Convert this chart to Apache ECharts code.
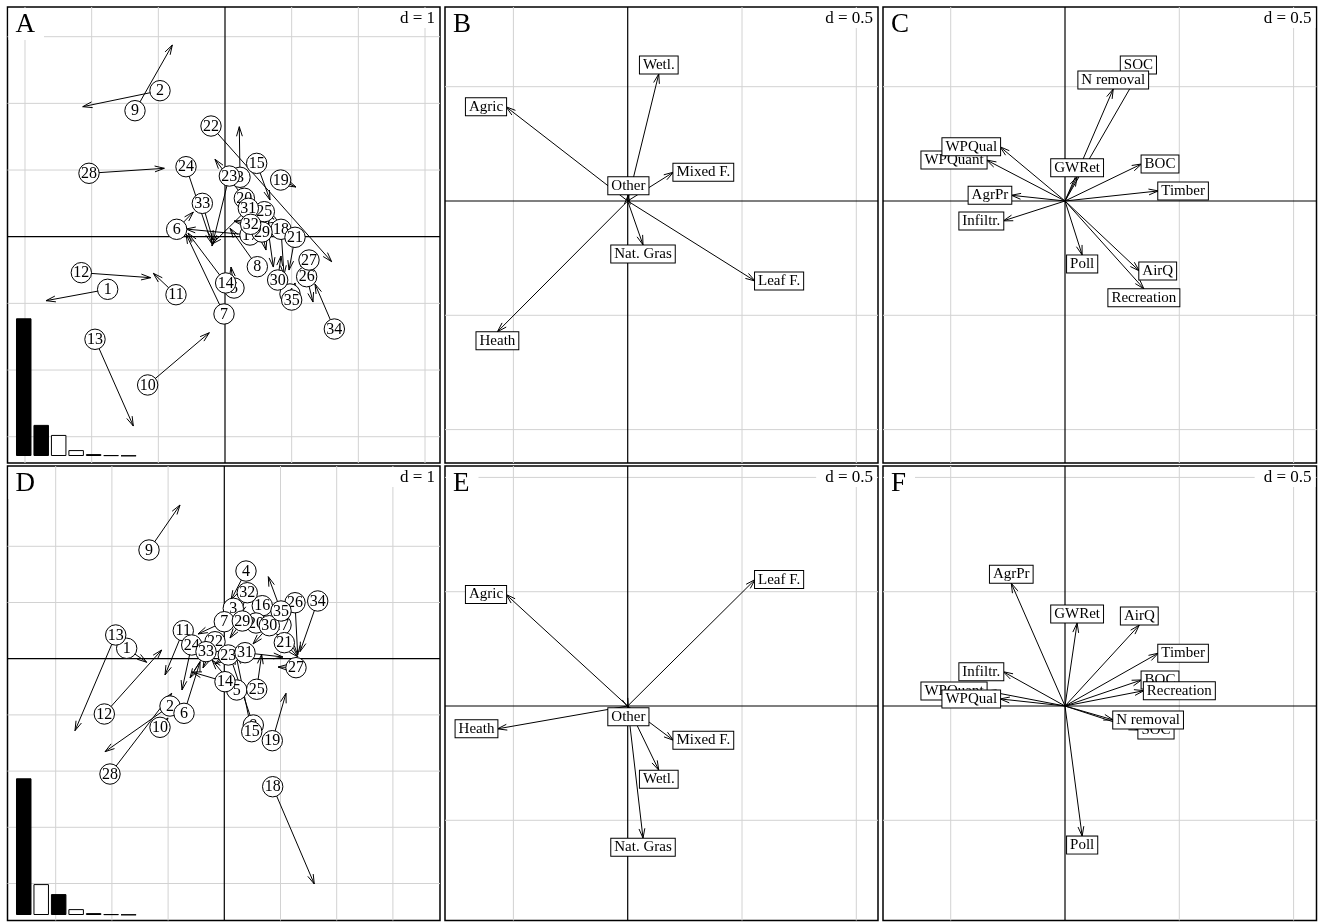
<!DOCTYPE html>
<html>
<head>
<meta charset="utf-8">
<script src="https://cdn.jsdelivr.net/npm/echarts@6/dist/echarts.min.js"></script>
<style>
html, body { margin: 0; padding: 0; background: #fff; }
#chart { width: 1322px; height: 922px; }
</style>
</head>
<body>
<div id="chart"></div>
<script>
// ---------- data ----------
// site numbers (rows of the co-inertia)
const siteIds = [1,2,3,4,5,6,7,8,9,10,11,12,13,14,15,16,17,18,19,20,21,22,23,24,25,26,27,28,29,30,31,32,33,34,35];

// axes 1-2: site scores from the land-cover table (circle) and the service table (arrow tip)
const sitesA_from = [[-1.76,-0.789],[-0.975,2.19],[0.225,0.891],[0.975,-0.859],[0.135,-0.77],[-0.725,0.111],[-0.015,-1.159],[0.485,-0.45],[-1.35,1.89],[-1.16,-2.224],[-0.735,-0.87],[-2.155,-0.54],[-1.95,-1.539],[0.01,-0.694],[0.475,1.10],[0.635,0.19],[0.375,0.025],[0.84,0.111],[0.835,0.85],[0.29,0.576],[1.05,-0.009],[-0.21,1.66],[0.065,0.91],[-0.585,1.05],[0.59,0.375],[1.225,-0.6],[1.26,-0.35],[-2.04,0.951],[0.555,0.07],[0.79,-0.65],[0.35,0.426],[0.385,0.186],[-0.34,0.5],[1.64,-1.385],[1.0,-0.95]];
const sitesA_to = [[-2.685,-0.96],[-2.134,1.95],[0.2145,1.65],[0.87,-0.71],[0.09,-0.455],[-0.475,0.37],[-0.585,0.04],[0.075,0.126],[-0.79,2.875],[-0.235,-1.44],[-1.075,-0.549],[-1.114,-0.615],[-1.375,-2.84],[-0.555,0.055],[0.675,0.55],[0.725,-0.455],[-0.585,0.115],[0.885,-0.574],[1.065,0.745],[-0.15,1.161],[0.96,-0.5],[1.6,-0.375],[-0.195,-0.14],[-0.2,-0.1],[0.39,0.40],[1.32,-0.98],[1.125,-0.44],[-0.91,1.026],[0.615,-0.2],[0.84,-0.29],[-0.195,-0.11],[0.135,0.235],[-0.18,-0.05],[1.35,-0.71],[1.05,-0.694]];

// axes 1-3
const sitesD_from = [[-1.737,0.185],[-0.966,-0.842],[0.16,0.897],[0.386,1.56],[0.221,-0.557],[-0.717,-0.972],[0,0.658],[0.516,-1.18],[-1.34,1.934],[-1.144,-1.221],[-0.73,0.498],[-2.135,-0.984],[-1.932,0.422],[0.012,-0.409],[0.488,-1.299],[0.676,0.943],[1.009,0.6],[0.861,-2.278],[0.854,-1.459],[0.564,0.635],[1.068,0.285],[-0.165,0.302],[0.071,0.066],[-0.58,0.244],[0.577,-0.544],[1.258,0.996],[1.276,-0.16],[-2.034,-2.052],[0.32,0.671],[0.801,0.587],[0.368,0.107],[0.409,1.174],[-0.326,0.125],[1.662,1.027],[1.009,0.849]];
const sitesD_to = [[-1.381,-0.064],[-2.123,-1.655],[-0.041,0.511],[0.119,1.044],[-0.219,-0.023],[-0.432,-0.059],[-0.468,0.44],[0.066,0.155],[-0.788,2.735],[-1.002,-1.055],[-1.055,-0.29],[-1.114,0.155],[-2.657,-1.281],[-0.575,-0.237],[0.208,0.066],[0.564,0.724],[1.169,0.19],[1.601,-4.009],[1.098,-0.616],[0.386,0.51],[1.311,0.03],[-0.379,-0.165],[-0.165,-0.094],[-0.753,-0.557],[0.665,0.078],[1.306,0.066],[0.956,-0.148],[-0.936,-0.616],[0.101,0.368],[0.511,0.262],[1.044,0.03],[0.279,0.778],[-0.61,-0.343],[1.347,0.125],[0.783,1.459]];

// land-cover loadings
const landCover      = ['Agric', 'Heath', 'Leaf F.', 'Mixed F.', 'Nat. Gras', 'Other', 'Wetl.'];
const landCoverAx1   = [-0.532, -0.570, 0.557, 0.200, 0.067, 0.003, 0.136];
const landCoverAx2   = [0.412, -0.572, -0.350, 0.126, -0.192, 0.027, 0.556];
const landCoverAx3   = [0.488, -0.100, 0.553, -0.150, -0.578, -0.008, -0.281];

// ecosystem-service loadings
const services       = ['AgrPr', 'Timber', 'Poll', 'AirQ', 'WPQuant', 'WPQual', 'Infiltr.', 'GWRet', 'SOC', 'N removal', 'BOC', 'Recreation'];
const servicesAx1    = [-0.235, 0.408, 0.075, 0.325, -0.343, -0.284, -0.270, 0.053, 0.321, 0.211, 0.335, 0.345];
const servicesAx2    = [0.025, 0.044, -0.236, -0.306, 0.179, 0.237, -0.087, 0.106, 0.556, 0.490, 0.162, -0.384];
const servicesAx3    = [0.537, 0.231, -0.569, 0.354, 0.066, 0.031, 0.150, 0.363, -0.105, -0.061, 0.114, 0.067];

// eigenvalues (relative) and which axes are shown
const eigenAxes   = ['1', '2', '3', '4', '5', '6', '7'];
const eigenValues = [1.0, 0.226, 0.153, 0.043, 0.014, 0.006, 0.003];
const eigenFillA  = ['#000', '#000', '#fff', '#fff', '#fff', '#fff', '#fff'];
const eigenFillD  = ['#000', '#fff', '#000', '#fff', '#fff', '#fff', '#fff'];

// grid line positions
const gridA  = [-3, -2, -1, 1, 2, 3];
const gridDx = [-3, -2, -1, 1, 2, 3];
const gridDy = [-4, -3, -2, -1, 1, 2];
const gridVx = [-0.5, 0.5, 1.0];
const gridVyTop = [-1.0, -0.5, 0.5];
const gridVyBottom = [-0.5, 0.5, 1.0];

// panel titles and scale labels
const panelLetters = ['A', 'B', 'C', 'D', 'E', 'F'];
const scaleLabels  = ['d = 1', 'd = 0.5', 'd = 0.5', 'd = 1', 'd = 0.5', 'd = 0.5'];

// ---------- layout ----------
const panels = [
  { box: [7.5, 7, 432.5, 456],   x: [-3.2624, 3.2249], y: [-3.3944, 3.4454] },
  { box: [445, 7, 433, 456],     x: [-0.7992, 1.0949], y: [-1.1461, 0.8486] },
  { box: [883, 7, 433.5, 456],   x: [-0.7962, 1.1002], y: [-1.1461, 0.8486] },
  { box: [7.5, 466, 432.5, 454.5], x: [-3.8577, 3.8381], y: [-4.6584, 3.4288] },
  { box: [445, 466, 433, 454.5],   x: [-0.7992, 1.0949], y: [-0.9383, 1.0499] },
  { box: [883, 466, 433.5, 454.5], x: [-0.7962, 1.1002], y: [-0.9383, 1.0499] }
];
const insets = [
  { box: [15, 318.3, 122.3, 137.7], fills: eigenFillA },
  { box: [15, 778.3, 122.3, 136.7], fills: eigenFillD }
];

const SERIF = '"Liberation Serif", "DejaVu Serif", serif';
const HEAD = 10, ANG = 17 * Math.PI / 180;

function arrowGroup(p0, p1) {
  const children = [{
    type: 'line',
    shape: { x1: p0[0], y1: p0[1], x2: p1[0], y2: p1[1] },
    style: { stroke: '#000', lineWidth: 1 }
  }];
  const dx = p1[0] - p0[0], dy = p1[1] - p0[1];
  if (Math.hypot(dx, dy) > 0.3) {
    const a = Math.atan2(dy, dx);
    children.push({
      type: 'polyline',
      shape: { points: [
        [p1[0] - HEAD * Math.cos(a - ANG), p1[1] - HEAD * Math.sin(a - ANG)],
        [p1[0], p1[1]],
        [p1[0] - HEAD * Math.cos(a + ANG), p1[1] - HEAD * Math.sin(a + ANG)]
      ] },
      style: { stroke: '#000', fill: 'none', lineWidth: 1 }
    });
  }
  return { type: 'group', children };
}

function lineSeries(idx, xs, ys, color, width, z) {
  const data = xs.map(v => [v, 0]).concat(ys.map(v => [v, 1]));
  return {
    type: 'custom', xAxisIndex: idx, yAxisIndex: idx, z, silent: true, data,
    encode: { x: 0 },
    renderItem(params, api) {
      const cs = params.coordSys;
      const v = api.value(0);
      if (api.value(1) === 0) {
        const x = api.coord([v, 0])[0];
        return { type: 'line', shape: { x1: x, y1: cs.y, x2: x, y2: cs.y + cs.height }, style: { stroke: color, lineWidth: width } };
      }
      const y = api.coord([0, v])[1];
      return { type: 'line', shape: { x1: cs.x, y1: y, x2: cs.x + cs.width, y2: y }, style: { stroke: color, lineWidth: width } };
    }
  };
}

function matchSeries(idx, from, to) {
  return {
    type: 'custom', xAxisIndex: idx, yAxisIndex: idx, z: 3, silent: true,
    data: from.map((s, i) => [s[0], s[1], to[i][0], to[i][1]]),
    encode: { x: [0, 2], y: [1, 3] },
    renderItem(params, api) {
      return arrowGroup(api.coord([api.value(0), api.value(1)]), api.coord([api.value(2), api.value(3)]));
    }
  };
}

function siteSeries(idx, from) {
  return {
    type: 'custom', xAxisIndex: idx, yAxisIndex: idx, z: 4, silent: true,
    data: from, encode: { x: 0, y: 1 },
    renderItem(params, api) {
      const p = api.coord([api.value(0), api.value(1)]);
      return { type: 'group', children: [
        { type: 'circle', shape: { cx: p[0], cy: p[1], r: 10.2 }, style: { fill: '#fff', stroke: '#000', lineWidth: 1 } },
        { type: 'text', x: p[0], y: p[1] + 0.5, style: { text: String(siteIds[params.dataIndex]), font: '16px ' + SERIF, fill: '#000', align: 'center', verticalAlign: 'middle' } }
      ] };
    }
  };
}

function vectorSeries(idx, xs, ys) {
  return {
    type: 'custom', xAxisIndex: idx, yAxisIndex: idx, z: 3, silent: true,
    data: xs.map((x, i) => [x, ys[i]]), encode: { x: 0, y: 1 },
    renderItem(params, api) {
      return arrowGroup(api.coord([0, 0]), api.coord([api.value(0), api.value(1)]));
    }
  };
}

function vectorLabelSeries(idx, names, xs, ys) {
  return {
    type: 'custom', xAxisIndex: idx, yAxisIndex: idx, z: 4, silent: true,
    data: xs.map((x, i) => [x, ys[i]]), encode: { x: 0, y: 1 },
    renderItem(params, api) {
      const x = api.value(0), y = api.value(1);
      const p = api.coord([x, y]);
      // label sits beyond the arrow tip, on the side the arrow points to
      let align = 'center', dy = 0;
      if (x > y && x > -y) align = 'left';
      else if (x > y && x <= -y) dy = 9;
      else if (x <= y && x <= -y) align = 'right';
      else dy = -9;
      return {
        type: 'text', x: p[0], y: p[1] + dy,
        style: {
          text: names[params.dataIndex], font: '15px ' + SERIF, fill: '#000',
          align, verticalAlign: 'middle',
          backgroundColor: '#fff', borderColor: '#000', borderWidth: 1, padding: [1, 3, 1, 3]
        }
      };
    }
  };
}

// ---------- option ----------
const grid = [], xAxis = [], yAxis = [], series = [], graphic = [];

panels.forEach((p, i) => {
  grid.push({ left: p.box[0], top: p.box[1], width: p.box[2], height: p.box[3], show: true, borderColor: '#000', borderWidth: 1.5, backgroundColor: '#fff' });
  xAxis.push({ gridIndex: i, type: 'value', min: p.x[0], max: p.x[1], show: false });
  yAxis.push({ gridIndex: i, type: 'value', min: p.y[0], max: p.y[1], show: false });

  graphic.push({
    type: 'text', left: p.box[0] + 1, top: p.box[1] + 1, z: 50,
    style: { text: panelLetters[i], font: '27px ' + SERIF, fill: '#000', backgroundColor: '#fff', padding: [3, 9, 2, 7] }
  });
  graphic.push({
    type: 'text', right: 1322 - (p.box[0] + p.box[2]) + 1, top: p.box[1] + 1, z: 50,
    style: { text: scaleLabels[i], font: '17px ' + SERIF, fill: '#000', backgroundColor: '#fff', padding: [2, 4, 1, 9] }
  });
});

insets.forEach((s, k) => {
  const gi = panels.length + k;
  grid.push({ left: s.box[0], top: s.box[1], width: s.box[2], height: s.box[3] });
  xAxis.push({ gridIndex: gi, type: 'category', data: eigenAxes, show: false });
  yAxis.push({ gridIndex: gi, type: 'value', min: 0, max: eigenValues[0], show: false });
  series.push({
    type: 'bar', xAxisIndex: gi, yAxisIndex: gi, z: 5, silent: true, barWidth: 15.5,
    data: eigenValues.map((v, j) => ({ value: v, itemStyle: { color: s.fills[j], borderColor: '#000', borderWidth: 1 } }))
  });
});

// background grids and centre axes
series.push(lineSeries(0, gridA, gridA, '#d2d2d2', 1, 1));
series.push(lineSeries(3, gridDx, gridDy, '#d2d2d2', 1, 1));
series.push(lineSeries(1, gridVx, gridVyTop, '#d2d2d2', 1, 1));
series.push(lineSeries(2, gridVx, gridVyTop, '#d2d2d2', 1, 1));
series.push(lineSeries(4, gridVx, gridVyBottom, '#d2d2d2', 1, 1));
series.push(lineSeries(5, gridVx, gridVyBottom, '#d2d2d2', 1, 1));
for (let i = 0; i < 6; i++) series.push(lineSeries(i, [0], [0], '#000', 1.2, 2));

// sites: arrows first, then numbered circles
series.push(matchSeries(0, sitesA_from, sitesA_to));
series.push(siteSeries(0, sitesA_from));
series.push(matchSeries(3, sitesD_from, sitesD_to));
series.push(siteSeries(3, sitesD_from));

// loadings
series.push(vectorSeries(1, landCoverAx1, landCoverAx2));
series.push(vectorLabelSeries(1, landCover, landCoverAx1, landCoverAx2));
series.push(vectorSeries(4, landCoverAx1, landCoverAx3));
series.push(vectorLabelSeries(4, landCover, landCoverAx1, landCoverAx3));
series.push(vectorSeries(2, servicesAx1, servicesAx2));
series.push(vectorLabelSeries(2, services, servicesAx1, servicesAx2));
series.push(vectorSeries(5, servicesAx1, servicesAx3));
series.push(vectorLabelSeries(5, services, servicesAx1, servicesAx3));

const chart = echarts.init(document.getElementById('chart'));
chart.setOption({
  animation: false,
  backgroundColor: '#fff',
  grid, xAxis, yAxis, series, graphic
});
</script>
</body>
</html>
